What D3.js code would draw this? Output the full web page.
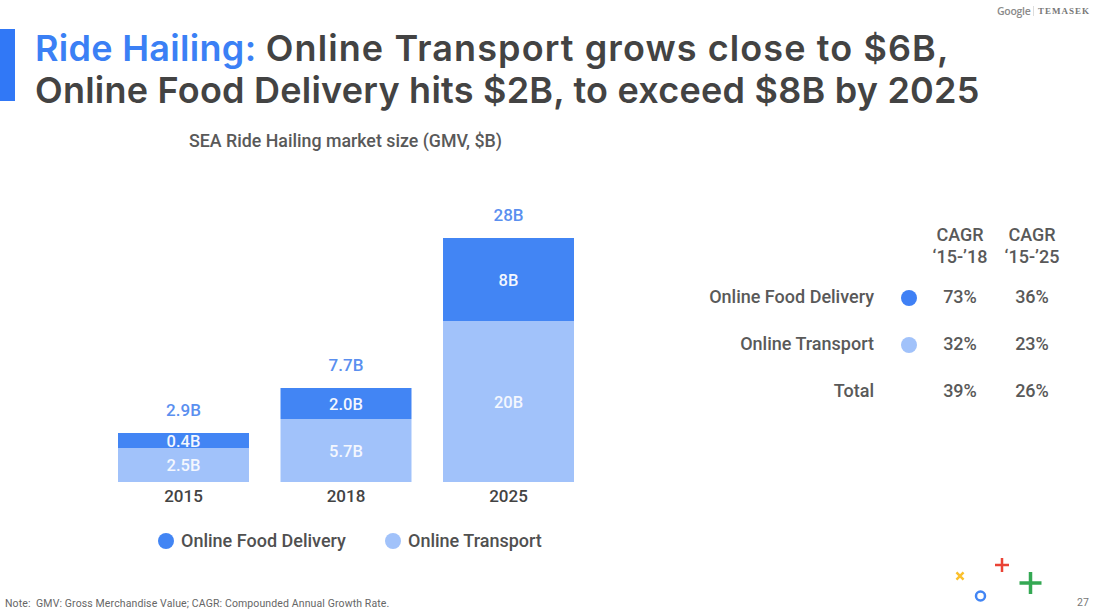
<!DOCTYPE html>
<html>
<head>
<meta charset="utf-8">
<script src="https://cdnjs.cloudflare.com/ajax/libs/d3/7.8.5/d3.min.js"></script>
<style>
  html, body { margin: 0; padding: 0; background: #fff; }
  svg { display: block; font-family: Roboto, sans-serif; }
</style>
</head>
<body>
<script>
const years = ["2015", "2018", "2025"];
const onlineTransport = [2.5, 5.7, 20];
const onlineFood = [0.4, 2.0, 8];
const transportLabels = ["2.5B", "5.7B", "20B"];
const foodLabels = ["0.4B", "2.0B", "8B"];
const totalLabels = ["2.9B", "7.7B", "28B"];

const seriesNames = ["Online Food Delivery", "Online Transport"];
const cagrHeads = ["CAGR", "CAGR"];
const cagrPeriods = ["‘15-’18", "‘15-’25"];
const cagrRows = ["Online Food Delivery", "Online Transport", "Total"];
const cagr1518 = ["73%", "32%", "39%"];
const cagr1525 = ["36%", "23%", "26%"];

const darkBlue = "#4285f4", lightBlue = "#a1c2fa";
const dark = "#434343", grey = "#595959";

const svg = d3.select("body").append("svg")
  .attr("width", 1097)
  .attr("height", 613);

// header
svg.append("rect").attr("x", 0).attr("y", 29).attr("width", 15).attr("height", 72).attr("fill", "#3178f6");

const title = svg.append("g")
  .attr("font-family", "Inter, sans-serif")
  .attr("font-weight", 600)
  .attr("font-size", 36)
  .attr("fill", dark);
const line1 = title.append("text").attr("x", 35).attr("y", 61);
line1.append("tspan").attr("fill", "#3b80f5").attr("letter-spacing", 0.3).text("Ride Hailing: ");
line1.append("tspan").attr("letter-spacing", 1.1).text("Online Transport grows close to $6B,");
title.append("text").attr("x", 35).attr("y", 103).attr("letter-spacing", 0.23)
  .text("Online Food Delivery hits $2B, to exceed $8B by 2025");

svg.append("text").attr("x", 189).attr("y", 147)
  .attr("font-size", 17.8).attr("font-weight", 500).attr("fill", "#595959")
  .text("SEA Ride Hailing market size (GMV, $B)");

// the bars in the original slide are not drawn to one linear scale,
// so the y scale is piecewise on the stacked totals
const y = d3.scaleLinear()
  .domain([0, 2.5, 2.9, 5.7, 7.7, 20, 28])
  .range([482, 448, 433, 419, 388, 321, 238]);

const x = d3.scaleBand()
  .domain(years)
  .range([118, 574])
  .paddingInner(0.194)
  .paddingOuter(0);

const table = years.map((yr, i) => ({ year: yr, transport: onlineTransport[i], food: onlineFood[i] }));
const stacked = d3.stack().keys(["transport", "food"])(table);
const colors = { transport: lightBlue, food: darkBlue };
const labels = { transport: transportLabels, food: foodLabels };

const chart = svg.append("g");
stacked.forEach(s => {
  chart.selectAll(null).data(s).enter().append("rect")
    .attr("x", d => x(d.data.year))
    .attr("width", x.bandwidth())
    .attr("y", d => y(d[1]))
    .attr("height", d => y(d[0]) - y(d[1]))
    .attr("fill", colors[s.key]);

  chart.selectAll(null).data(s).enter().append("text")
    .attr("x", d => x(d.data.year) + x.bandwidth() / 2)
    .attr("y", d => (y(d[0]) + y(d[1])) / 2 + 6)
    .attr("text-anchor", "middle")
    .attr("font-size", 16.5)
    .attr("font-weight", 500)
    .attr("fill", "#f4f7fe")
    .text((d, i) => labels[s.key][i]);
});

// totals above the bars
chart.selectAll(null).data(stacked[1]).enter().append("text")
  .attr("x", d => x(d.data.year) + x.bandwidth() / 2)
  .attr("y", d => y(d[1]) - 17)
  .attr("text-anchor", "middle")
  .attr("font-size", 17)
  .attr("font-weight", 500)
  .attr("fill", "#5a8fef")
  .text((d, i) => totalLabels[i]);

const xAxis = svg.append("g")
  .attr("transform", "translate(0,482)")
  .call(d3.axisBottom(x).tickSize(0).tickPadding(8));
xAxis.select(".domain").remove();
xAxis.selectAll("text")
  .attr("font-family", "Roboto, sans-serif")
  .attr("font-size", 17)
  .attr("font-weight", 500)
  .attr("fill", dark);

// legend
const legendX = [166, 393];
const legend = svg.selectAll(".legend").data(seriesNames).enter().append("g")
  .attr("class", "legend")
  .attr("transform", (d, i) => "translate(" + legendX[i] + ",541)");
legend.append("circle").attr("r", 8).attr("fill", (d, i) => i == 0 ? darkBlue : lightBlue);
legend.append("text").attr("x", 15).attr("y", 6)
  .attr("font-size", 18).attr("font-weight", 500).attr("fill", "#505050")
  .text(d => d);

// CAGR table
const colX = d3.scalePoint().domain([0, 1]).range([960, 1032]);
const rowY = d3.scalePoint().domain(cagrRows).range([297, 391]);

const side = svg.append("g").attr("font-size", 18).attr("font-weight", 500).attr("fill", grey);

side.selectAll(null).data(cagrHeads).enter().append("text")
  .attr("x", (d, i) => colX(i)).attr("y", 241).attr("text-anchor", "middle").text(d => d);
side.selectAll(null).data(cagrPeriods).enter().append("text")
  .attr("x", (d, i) => colX(i)).attr("y", 263).attr("text-anchor", "middle").text(d => d);

side.selectAll(null).data(cagrRows).enter().append("text")
  .attr("x", 874).attr("y", d => rowY(d) + 6).attr("text-anchor", "end").text(d => d);
side.selectAll(null).data(cagrRows.slice(0, 2)).enter().append("circle")
  .attr("cx", 909).attr("cy", d => rowY(d) + 1).attr("r", 8)
  .attr("fill", (d, i) => i == 0 ? "#3f80f5" : lightBlue);
[cagr1518, cagr1525].forEach((col, c) => {
  side.selectAll(null).data(col).enter().append("text")
    .attr("x", colX(c)).attr("y", (d, i) => rowY(cagrRows[i]) + 6)
    .attr("text-anchor", "middle").text(d => d);
});

// logos
svg.append("text").attr("x", 997).attr("y", 15)
  .attr("font-family", "Open Sans, sans-serif").attr("font-size", 10.5).attr("font-weight", 600)
  .attr("fill", "#8a8a8a").attr("letter-spacing", -0.3).text("Google");
svg.append("line").attr("x1", 1033.5).attr("x2", 1033.5).attr("y1", 6).attr("y2", 16).attr("stroke", "#ddd");
svg.append("text").attr("x", 1038).attr("y", 14)
  .attr("font-family", "Liberation Serif, serif").attr("font-size", 9).attr("font-weight", 700)
  .attr("fill", "#777").attr("letter-spacing", 1).text("TEMASEK");

// footer
svg.append("text").attr("x", 5).attr("y", 607)
  .attr("font-size", 10.5).attr("fill", "#666").attr("letter-spacing", 0.12)
  .attr("style", "white-space: pre")
  .text("Note:  GMV: Gross Merchandise Value; CAGR: Compounded Annual Growth Rate.");
svg.append("text").attr("x", 1077).attr("y", 606)
  .attr("font-size", 10.5).attr("fill", "#777").text("27");

// decorative marks
const plus = (cx, cy, r) => "M" + (cx - r) + "," + cy + "H" + (cx + r) + "M" + cx + "," + (cy - r) + "V" + (cy + r);
svg.append("path").attr("d", plus(1002, 565, 7)).attr("stroke", "#ea4335").attr("stroke-width", 2.5).attr("fill", "none");
svg.append("path").attr("d", plus(1030.5, 583, 11)).attr("stroke", "#34a853").attr("stroke-width", 3.5).attr("fill", "none");
svg.append("path").attr("d", plus(960, 576, 5)).attr("transform", "rotate(45 960 576)")
  .attr("stroke", "#fbc02d").attr("stroke-width", 2.5).attr("fill", "none");
svg.append("circle").attr("cx", 980.5).attr("cy", 596).attr("r", 4.5)
  .attr("stroke", "#4285f4").attr("stroke-width", 2.5).attr("fill", "none");
</script>
</body>
</html>
